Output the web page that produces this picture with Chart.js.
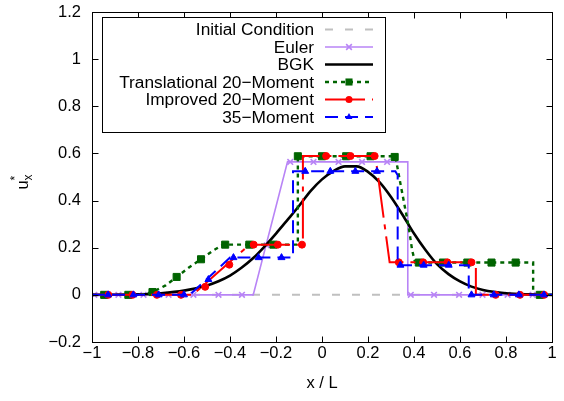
<!DOCTYPE html>
<html>
<head>
<meta charset="utf-8">
<script src="https://cdn.jsdelivr.net/npm/chart.js@4"></script>
<style>
  html, body { margin: 0; padding: 0; background: #fff; }
  canvas { display: block; }
</style>
</head>
<body>
<canvas id="chart" width="564" height="401"></canvas>
<script>
// axis ticks
const xTicks = [-1, -0.8, -0.6, -0.4, -0.2, 0, 0.2, 0.4, 0.6, 0.8, 1];
const yTicks = [-0.2, 0, 0.2, 0.4, 0.6, 0.8, 1, 1.2];

// Initial Condition
const initX = [-1, 1];
const initY = [0, 0];

// Euler
const eulerX = [-1, -0.299, -0.150, 0.373, 0.373, 1];
const eulerY = [0, 0, 0.564, 0.564, 0, 0];
const eulerMarkX = [-0.99, -0.885, -0.776, -0.667, -0.559, -0.45, -0.348, -0.24, -0.138, -0.037, 0.072, 0.174, 0.283, 0.386, 0.487, 0.596, 0.698, 0.807, 0.916];
const eulerMarkY = [0, 0, 0, 0, 0, 0, 0, 0.21, 0.564, 0.564, 0.564, 0.564, 0.564, 0, 0, 0, 0, 0, 0];

// BGK
const bgkX = [-1, -0.8, -0.7, -0.6, -0.5, -0.45, -0.4, -0.35, -0.3, -0.25, -0.2, -0.15, -0.1, -0.05, 0, 0.05, 0.1, 0.15, 0.2, 0.25, 0.3, 0.35, 0.4, 0.45, 0.5, 0.55, 0.6, 0.65, 0.7, 0.8, 0.9, 1];
const bgkY = [0, 0.002, 0.007, 0.018, 0.04, 0.058, 0.082, 0.115, 0.155, 0.205, 0.26, 0.318, 0.377, 0.44, 0.49, 0.525, 0.545, 0.545, 0.522, 0.478, 0.415, 0.34, 0.26, 0.19, 0.13, 0.088, 0.057, 0.035, 0.021, 0.007, 0.002, 0];

// Translational 20-Moment
const tr20X = [-1, -0.79, -0.737, -0.68, -0.632, -0.58, -0.526, -0.47, -0.43, -0.105, -0.105, 0.319, 0.341, 0.363, 0.377, 0.392, 0.405, 0.918, 0.918, 1];
const tr20Y = [0, 0, 0.012, 0.04, 0.076, 0.115, 0.151, 0.19, 0.213, 0.213, 0.588, 0.588, 0.472, 0.359, 0.288, 0.189, 0.137, 0.137, 0, 0];
const tr20MarkX = [-0.947, -0.842, -0.737, -0.632, -0.526, -0.421, -0.316, -0.211, -0.105, 0, 0.105, 0.211, 0.316, 0.421, 0.526, 0.632, 0.737, 0.842, 0.947];
const tr20MarkY = [0, 0, 0.012, 0.076, 0.151, 0.213, 0.213, 0.213, 0.588, 0.588, 0.588, 0.588, 0.585, 0.137, 0.137, 0.137, 0.137, 0.137, 0];

// Improved 20-Moment
const im20X = [-1, -0.563, -0.315, -0.083, -0.083, 0.232, 0.294, 0.669, 0.669, 1];
const im20Y = [0, 0, 0.213, 0.213, 0.589, 0.589, 0.138, 0.138, 0, 0];
const im20MarkX = [-0.929, -0.824, -0.718, -0.613, -0.508, -0.403, -0.297, -0.192, -0.087, 0.018, 0.124, 0.229, 0.334, 0.44, 0.545, 0.65, 0.755, 0.861, 0.966];
const im20MarkY = [0, 0, 0, 0, 0.034, 0.128, 0.213, 0.213, 0.213, 0.589, 0.589, 0.589, 0.138, 0.138, 0.138, 0.138, 0, 0, 0];

// 35-Moment
const m35X = [-1, -0.575, -0.4, -0.126, -0.126, 0.319, 0.329, 0.329, 0.638, 0.638, 1];
const m35Y = [0, 0, 0.158, 0.158, 0.524, 0.524, 0.507, 0.126, 0.126, 0, 0];
const m35MarkX = [-0.93, -0.82, -0.71, -0.6, -0.494, -0.385, -0.276, -0.176, -0.073, 0.036, 0.145, 0.239, 0.341, 0.442, 0.551, 0.65, 0.747, 0.856, 0.965];
const m35MarkY = [0, 0, 0, 0, 0.065, 0.158, 0.158, 0.158, 0.524, 0.524, 0.524, 0.524, 0.126, 0.126, 0.126, 0, 0, 0, 0];

const FONT = '"Liberation Sans", Arial, Helvetica, sans-serif';
const TICK_PX = 16.5;
const KEY_PX = 17.3;

const pts = (xs, ys) => xs.map((x, i) => ({ x, y: ys[i] }));
const fmt = v => {
  const r = Math.round(v * 10) / 10;
  return (r < 0 ? '\u2212' : '') + Math.abs(r);
};

const series = [
  { label: 'Initial Condition', color: '#c0c0c0', width: 2, dash: [8, 12], line: pts(initX, initY) },
  { label: 'Euler', color: '#b884f6', width: 1.6, dash: [], line: pts(eulerX, eulerY),
    marks: pts(eulerMarkX, eulerMarkY), style: 'crossRot', radius: 4 },
  { label: 'BGK', color: '#000000', width: 2.6, dash: [], line: pts(bgkX, bgkY), smooth: true },
  { label: 'Translational 20\u2212Moment', color: '#006400', width: 2.4, dash: [4, 4], line: pts(tr20X, tr20Y),
    marks: pts(tr20MarkX, tr20MarkY), style: 'rect', radius: 5 },
  { label: 'Improved 20\u2212Moment', color: '#ff0000', width: 2, dash: [40, 7, 5, 7], line: pts(im20X, im20Y),
    marks: pts(im20MarkX, im20MarkY), style: 'circle', radius: 3.5 },
  { label: '35\u2212Moment', color: '#0000ff', width: 2, dash: [13, 7], line: pts(m35X, m35Y),
    marks: pts(m35MarkX, m35MarkY), style: 'triangle', radius: 4 },
];

// first series lies at the bottom, the last one on top
const datasets = [];
series.forEach((s, i) => {
  const base = (series.length - i) * 2;
  datasets.push({
    label: s.label,
    data: s.line,
    showLine: true,
    borderColor: s.color,
    backgroundColor: s.color,
    borderWidth: s.width,
    borderDash: s.dash,
    pointRadius: 0,
    pointHoverRadius: 0,
    cubicInterpolationMode: s.smooth ? 'monotone' : 'default',
    order: base,
  });
  if (s.marks) {
    datasets.push({
      label: s.label + ' marks',
      data: s.marks,
      showLine: false,
      pointStyle: s.style,
      pointRadius: s.radius,
      pointHoverRadius: s.radius,
      pointBorderWidth: s.style === 'crossRot' ? 1.6 : 1,
      borderColor: s.color,
      backgroundColor: s.color,
      order: base - 1,
    });
  }
});

function drawMark(c, s, x, y) {
  const r = s.radius;
  c.save();
  c.fillStyle = s.color;
  c.strokeStyle = s.color;
  c.lineWidth = s.style === 'crossRot' ? 1.6 : 1;
  c.setLineDash([]);
  c.beginPath();
  if (s.style === 'circle') {
    c.arc(x, y, r, 0, Math.PI * 2);
    c.fill();
  } else if (s.style === 'rect') {
    const h = r * Math.SQRT1_2;
    c.fillRect(x - h, y - h, 2 * h, 2 * h);
  } else if (s.style === 'triangle') {
    c.moveTo(x, y - r);
    c.lineTo(x + r * 0.866, y + r * 0.5);
    c.lineTo(x - r * 0.866, y + r * 0.5);
    c.closePath();
    c.fill();
  } else if (s.style === 'crossRot') {
    const h = r * Math.SQRT1_2;
    c.moveTo(x - h, y - h); c.lineTo(x + h, y + h);
    c.moveTo(x + h, y - h); c.lineTo(x - h, y + h);
    c.stroke();
  }
  c.restore();
}

const framePlugin = {
  id: 'frame',
  afterDatasetsDraw(chart) {
    const { ctx: c, chartArea: a, scales } = chart;
    const L = Math.round(a.left) + 0.5, R = Math.round(a.right) + 0.5;
    const T = Math.round(a.top) + 0.5, B = Math.round(a.bottom) + 0.5;
    c.save();
    c.strokeStyle = '#000';
    c.lineWidth = 1;
    c.setLineDash([]);
    c.beginPath();
    xTicks.forEach(v => {
      const px = Math.round(scales.x.getPixelForValue(v)) + 0.5;
      c.moveTo(px, B); c.lineTo(px, B - 6);
      c.moveTo(px, T); c.lineTo(px, T + 6);
    });
    yTicks.forEach(v => {
      const py = Math.round(scales.y.getPixelForValue(v)) + 0.5;
      c.moveTo(L, py); c.lineTo(L + 6, py);
      c.moveTo(R, py); c.lineTo(R - 6, py);
    });
    c.stroke();
    c.strokeRect(L, T, R - L, B - T);

    // axis titles
    c.fillStyle = '#000';
    c.font = TICK_PX + 'px ' + FONT;
    c.textAlign = 'center';
    c.textBaseline = 'middle';
    c.fillText('x / L', (a.left + a.right) / 2, 383);

    c.translate(28, 182);
    c.rotate(-Math.PI / 2);
    c.textAlign = 'left';
    c.textBaseline = 'alphabetic';
    c.font = TICK_PX + 'px ' + FONT;
    const uw = c.measureText('u').width;
    c.font = '12px ' + FONT;
    const sw = Math.max(c.measureText('x').width, c.measureText('*').width);
    const x0 = -(uw + sw) / 2;
    c.font = TICK_PX + 'px ' + FONT;
    c.fillText('u', x0, 0);
    c.font = '12px ' + FONT;
    c.fillText('x', x0 + uw, 4);
    c.fillText('*', x0 + uw, -9);
    c.restore();
  },
  afterDraw(chart) {
    const c = chart.ctx;
    c.save();
    c.fillStyle = '#fff';
    c.fillRect(102.5, 17.5, 283, 115);
    c.strokeStyle = '#000';
    c.lineWidth = 1;
    c.strokeRect(102.5, 17.5, 283, 115);
    series.forEach((s, i) => {
      const y = 29.5 + i * 17.5;
      c.font = KEY_PX + 'px ' + FONT;
      c.fillStyle = '#000';
      c.textAlign = 'right';
      c.textBaseline = 'middle';
      c.fillText(s.label, 314, y + 1);
      c.strokeStyle = s.color;
      c.lineWidth = s.width;
      c.setLineDash(s.dash);
      c.beginPath();
      c.moveTo(325, y);
      c.lineTo(373, y);
      c.stroke();
      if (s.marks) drawMark(c, s, 349, y);
    });
    c.restore();
  },
};

const tickFont = { family: FONT, size: TICK_PX };

new Chart(document.getElementById('chart').getContext('2d'), {
  type: 'scatter',
  data: { datasets },
  options: {
    responsive: false,
    animation: false,
    layout: { padding: { top: 12, right: 12, left: 0, bottom: 0 } },
    plugins: {
      legend: { display: false },
      tooltip: { enabled: false },
    },
    scales: {
      x: {
        type: 'linear',
        min: -1,
        max: 1,
        afterBuildTicks: s => { s.ticks = xTicks.map(v => ({ value: v })); },
        ticks: { callback: fmt, font: tickFont, color: '#000', padding: 2, maxRotation: 0, autoSkip: false },
        grid: { display: false, drawTicks: false },
        border: { display: false },
        afterFit: s => { s.height = 59; s.paddingLeft = 0; s.paddingRight = 0; },
      },
      y: {
        min: -0.2,
        max: 1.2,
        afterBuildTicks: s => { s.ticks = yTicks.map(v => ({ value: v })); },
        ticks: { callback: fmt, font: tickFont, color: '#000', padding: 11, autoSkip: false },
        grid: { display: false, drawTicks: false },
        border: { display: false },
        afterFit: s => { s.width = 92; s.paddingTop = 0; s.paddingBottom = 0; },
      },
    },
  },
  plugins: [framePlugin],
});
</script>
</body>
</html>
